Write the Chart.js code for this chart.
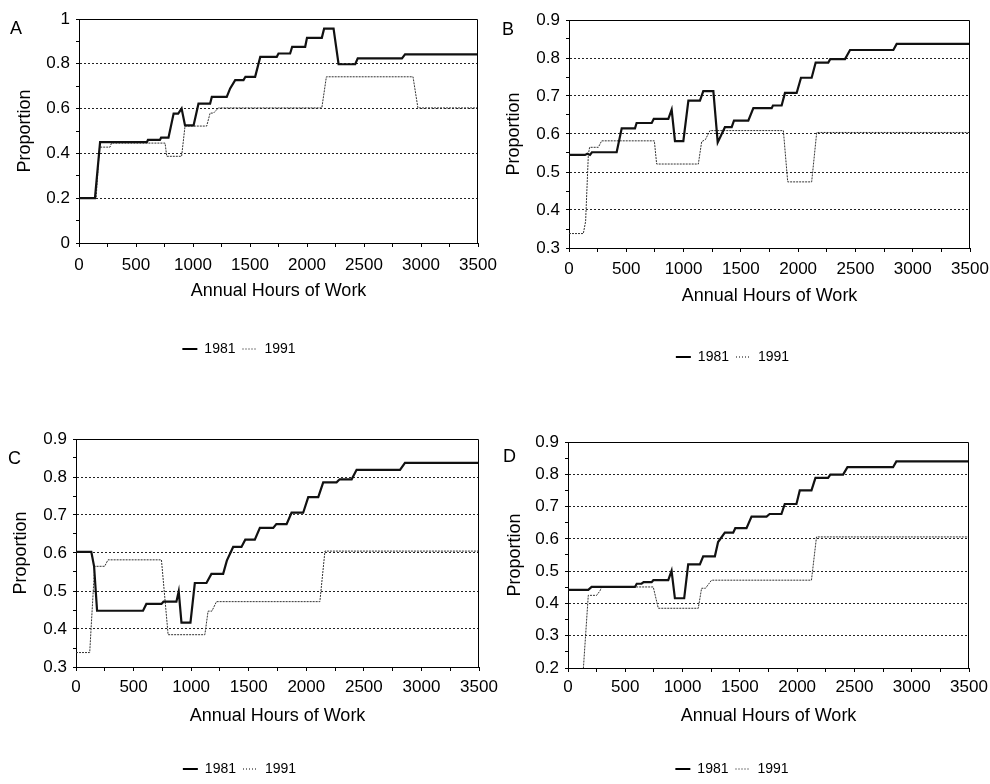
<!DOCTYPE html>
<html>
<head>
<meta charset="utf-8">
<script src="https://cdn.jsdelivr.net/npm/chart.js@4.4.1/dist/chart.umd.min.js"></script>
<style>
  html, body { margin: 0; padding: 0; background: #fff; }
  body { width: 990px; height: 784px; overflow: hidden; position: relative; font-family: 'Liberation Sans', Arial, sans-serif; }
  canvas { position: absolute; }
  .letter { position: absolute; font-size: 18px; line-height: 18px; color: #000; }
</style>
</head>
<body>
<script>
//Series labels and tick range
const seriesLabels = ['1981', '1991'];
const hoursMin = 0;
const hoursMax = 3500;

//Panel A
const aHours81 = [0,140,185,595,605,710,720,785,830,870,900,930,1005,1048,1150,1165,1296,1326,1370,1443,1460,1545,1590,1735,1750,1852,1870,1984,2000,2130,2150,2233,2277,2423,2445,2833,2860,3500];
const aProp81  = [0.2,0.2,0.45,0.45,0.46,0.46,0.47,0.47,0.578,0.578,0.6,0.525,0.525,0.622,0.622,0.652,0.652,0.69,0.727,0.727,0.742,0.742,0.831,0.831,0.846,0.846,0.876,0.876,0.916,0.916,0.957,0.957,0.798,0.798,0.824,0.824,0.842,0.842];
const aHours91 = [0,150,180,272,285,755,770,900,930,1120,1150,1180,1223,2130,2170,2930,2973,3500];
const aProp91  = [0.2,0.2,0.428,0.428,0.446,0.446,0.387,0.387,0.522,0.522,0.58,0.58,0.603,0.603,0.742,0.742,0.603,0.603];

//Panel B
const bHours81 = [0,140,160,183,200,416,460,576,590,722,740,867,896,925,998,1042,1143,1172,1260,1298,1361,1420,1440,1565,1609,1769,1780,1856,1885,1987,2025,2118,2153,2263,2280,2409,2453,2831,2860,3500];
const bProp81  = [0.545,0.545,0.548,0.545,0.552,0.552,0.615,0.615,0.629,0.629,0.64,0.64,0.664,0.581,0.581,0.688,0.688,0.713,0.713,0.578,0.618,0.618,0.635,0.635,0.668,0.668,0.675,0.675,0.708,0.708,0.748,0.748,0.788,0.788,0.797,0.797,0.821,0.821,0.837,0.837];
const bHours91 = [0,125,145,169,180,256,285,745,765,1129,1158,1190,1230,1871,1909,2118,2162,3500];
const bProp91  = [0.338,0.338,0.37,0.547,0.565,0.565,0.582,0.582,0.521,0.521,0.58,0.585,0.609,0.609,0.474,0.474,0.604,0.604];

//Panel C
const cHours81 = [0,133,157,183,582,611,742,760,872,892,916,994,1032,1133,1176,1278,1310,1365,1437,1470,1553,1597,1713,1740,1829,1872,1973,2017,2104,2147,2263,2290,2394,2437,2814,2857,3500];
const cProp81  = [0.603,0.603,0.565,0.448,0.448,0.466,0.466,0.472,0.472,0.499,0.417,0.417,0.521,0.521,0.545,0.545,0.58,0.616,0.616,0.635,0.635,0.666,0.666,0.676,0.676,0.706,0.706,0.747,0.747,0.786,0.786,0.794,0.794,0.819,0.819,0.837,0.837];
const cHours91 = [0,119,162,249,278,742,800,1119,1147,1180,1220,2118,2162,3500];
const cProp91  = [0.338,0.338,0.565,0.565,0.582,0.582,0.385,0.385,0.447,0.447,0.472,0.472,0.605,0.605];

//Panel D
const dHours81 = [0,177,206,584,600,642,660,730,745,875,904,933,1014,1049,1151,1180,1282,1310,1369,1442,1460,1558,1602,1733,1760,1863,1892,1994,2023,2125,2160,2270,2290,2401,2439,2837,2866,3500];
const dProp81  = [0.442,0.442,0.451,0.451,0.461,0.461,0.466,0.466,0.472,0.472,0.501,0.416,0.416,0.521,0.521,0.546,0.546,0.59,0.619,0.619,0.633,0.633,0.669,0.669,0.677,0.677,0.708,0.708,0.75,0.75,0.789,0.789,0.799,0.799,0.822,0.822,0.84,0.84];
const dHours91 = [0,125,177,250,279,294,744,788,1137,1166,1200,1253,2125,2169,3500];
const dProp91  = [0.15,0.15,0.425,0.425,0.439,0.451,0.451,0.385,0.385,0.447,0.447,0.472,0.472,0.606,0.606];

const FONT = "'Liberation Sans', Arial, sans-serif";

//Page layout of each panel (pixels)
const panels = [
    {letter: 'A', h81: aHours81, p81: aProp81, h91: aHours91, p91: aProp91,
     yMin: 0, yMax: 1, yStep: 0.1, yMajor: 0.2,
     canvasLeft: 0, canvasTop: 0, plotLeft: 79, plotTop: 19, plotRight: 478, plotBottom: 242,
     legendCenterX: 262, legendCenterY: 350, xTickPad: 8, xTitlePad: 33, yTitlePad: 14, letterX: 10, letterY: 19},
    {letter: 'B', h81: bHours81, p81: bProp81, h91: bHours91, p91: bProp91,
     yMin: 0.3, yMax: 0.9, yStep: 0.05, yMajor: 0.1,
     canvasLeft: 495, canvasTop: 0, plotLeft: 569, plotTop: 20, plotRight: 970, plotBottom: 247,
     legendCenterX: 755, legendCenterY: 358, xTickPad: 7, xTitlePad: 36, yTitlePad: 8, letterX: 502, letterY: 20},
    {letter: 'C', h81: cHours81, p81: cProp81, h91: cHours91, p91: cProp91,
     yMin: 0.3, yMax: 0.9, yStep: 0.05, yMajor: 0.1,
     canvasLeft: 0, canvasTop: 395, plotLeft: 76, plotTop: 439, plotRight: 479, plotBottom: 666,
     legendCenterX: 258, legendCenterY: 770, xTickPad: 6, xTitlePad: 28, yTitlePad: 10, letterX: 8, letterY: 449},
    {letter: 'D', h81: dHours81, p81: dProp81, h91: dHours91, p91: dProp91,
     yMin: 0.2, yMax: 0.9, yStep: 0.05, yMajor: 0.1,
     canvasLeft: 495, canvasTop: 395, plotLeft: 568, plotTop: 442, plotRight: 969, plotBottom: 667,
     legendCenterX: 755, legendCenterY: 770, xTickPad: 5, xTitlePad: 28, yTitlePad: 9, letterX: 503, letterY: 447}
];

//Draws the top and right edges of the plot box
const frame = {
    id: 'frame',
    afterDatasetsDraw(chart) {
        const {ctx, chartArea: a} = chart;
        ctx.save();
        ctx.strokeStyle = '#000';
        ctx.lineWidth = 1;
        ctx.setLineDash([]);
        ctx.beginPath();
        ctx.moveTo(a.left, a.top + 0.5);
        ctx.lineTo(a.right - 0.5, a.top + 0.5);
        ctx.lineTo(a.right - 0.5, a.bottom);
        ctx.stroke();
        ctx.restore();
    }
};

function isMajor(v, major) {
    const r = v / major;
    return Math.abs(r - Math.round(r)) < 1e-6;
}

function toPoints(hours, props) {
    return hours.map((h, i) => ({x: h, y: props[i]}));
}

//Legend items: solid line for 1981, dotted one for 1991
function legendLabels(chart) {
    const items = Chart.defaults.plugins.legend.labels.generateLabels(chart);
    items.forEach((item, i) => {
        item.lineWidth = i === 0 ? 2 : 1;
        item.lineDash = i === 0 ? [] : [1, 2];
        item.strokeStyle = '#000';
    });
    return items;
}

function makePanel(p) {
    const legendTop = p.legendCenterY - 16;
    const width = 2 * (p.legendCenterX - p.canvasLeft);
    const height = legendTop + 32 - p.canvasTop;

    const canvas = document.createElement('canvas');
    canvas.width = width;
    canvas.height = height;
    canvas.style.left = p.canvasLeft + 'px';
    canvas.style.top = p.canvasTop + 'px';
    canvas.style.width = width + 'px';
    canvas.style.height = height + 'px';
    document.body.appendChild(canvas);

    const letter = document.createElement('div');
    letter.className = 'letter';
    letter.textContent = p.letter;
    letter.style.left = p.letterX + 'px';
    letter.style.top = p.letterY + 'px';
    document.body.appendChild(letter);

    new Chart(canvas, {
        type: 'line',
        data: {
            datasets: [{
                label: seriesLabels[0],
                data: toPoints(p.h81, p.p81),
                borderColor: '#111',
                borderWidth: 2.2,
                pointRadius: 0,
                tension: 0
            },
            {
                label: seriesLabels[1],
                data: toPoints(p.h91, p.p91),
                borderColor: '#333',
                borderWidth: 1,
                borderDash: [2, 1],
                pointRadius: 0,
                tension: 0
            }]
        },
        options: {
            responsive: false,
            animation: false,
            layout: {
                padding: {left: 0, top: p.plotTop - p.canvasTop, right: p.canvasLeft + width - p.plotRight, bottom: 0}
            },
            plugins: {
                tooltip: {enabled: false},
                legend: {
                    position: 'bottom',
                    labels: {
                        color: '#000',
                        font: {family: FONT, size: 14},
                        usePointStyle: true,
                        pointStyle: 'line',
                        pointStyleWidth: 15,
                        boxHeight: 12,
                        padding: 7,
                        generateLabels: legendLabels
                    }
                }
            },
            scales: {
                x: {
                    type: 'linear',
                    min: hoursMin,
                    max: hoursMax,
                    afterFit: (scale) => { scale.height = legendTop - p.plotBottom; },
                    ticks: {
                        stepSize: 250,
                        autoSkip: false,
                        maxRotation: 0,
                        color: '#000',
                        padding: p.xTickPad,
                        font: {family: FONT, size: 17},
                        callback: (v) => isMajor(v, 500) ? String(v) : ''
                    },
                    grid: {drawOnChartArea: false, tickLength: 4, tickColor: '#000'},
                    border: {color: '#000', width: 1},
                    title: {
                        display: true,
                        text: 'Annual Hours of Work',
                        color: '#000',
                        font: {family: FONT, size: 18},
                        padding: {top: 0, bottom: p.xTitlePad}
                    }
                },
                y: {
                    min: p.yMin,
                    max: p.yMax,
                    afterFit: (scale) => { scale.width = p.plotLeft - p.canvasLeft; },
                    ticks: {
                        stepSize: p.yStep,
                        autoSkip: false,
                        color: '#000',
                        padding: 6,
                        font: {family: FONT, size: 17},
                        callback: (v) => isMajor(v, p.yMajor) ? String(+v.toFixed(2)) : ''
                    },
                    grid: {
                        tickLength: 3,
                        tickColor: '#000',
                        color: (ctx) => {
                            const v = ctx.tick.value;
                            if (!isMajor(v, p.yMajor)) return 'rgba(0,0,0,0)';
                            if (Math.abs(v - p.yMin) < 1e-6 || Math.abs(v - p.yMax) < 1e-6) return 'rgba(0,0,0,0)';
                            return '#222';
                        }
                    },
                    border: {color: '#000', width: 1, dash: [2, 2]},
                    title: {
                        display: true,
                        text: 'Proportion',
                        color: '#000',
                        font: {family: FONT, size: 18},
                        padding: {top: p.yTitlePad, bottom: 0}
                    }
                }
            }
        },
        plugins: [frame]
    });
}

panels.forEach(makePanel);
</script>
</body>
</html>
